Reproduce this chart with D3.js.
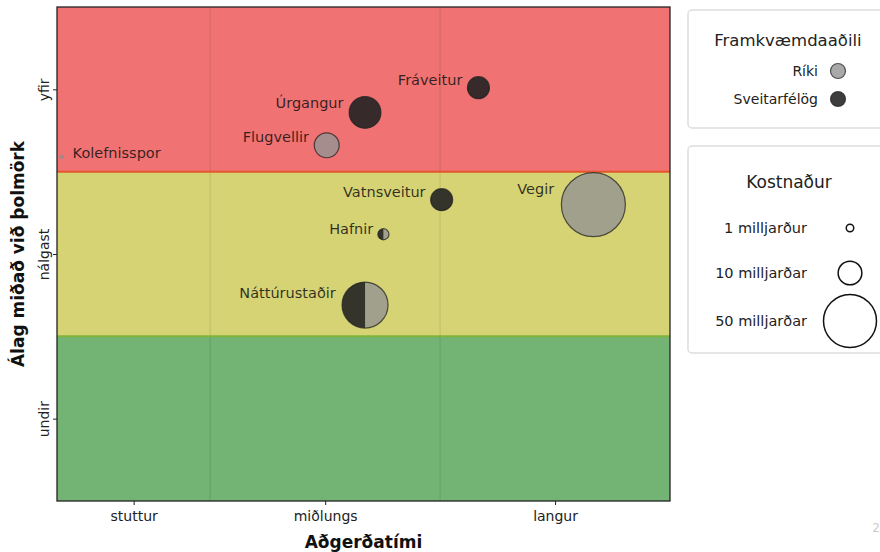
<!DOCTYPE html>
<html>
<head>
<meta charset="utf-8">
<script src="https://cdn.jsdelivr.net/npm/d3@7"></script>
<style>
  body { margin: 0; background: #fff; }
  svg { display: block; font-family: "DejaVu Sans", sans-serif; }
</style>
</head>
<body>
<script>
// verkefnaflokkar
var categories = ["Kolefnisspor", "Úrgangur", "Fráveitur", "Flugvellir", "Vatnsveitur", "Vegir", "Hafnir", "Náttúrustaðir"];
// Aðgerðatími (0-4, stuttur / miðlungs / langur)
var timeValues = [0.03, 2.01, 2.75, 1.76, 2.51, 3.50, 2.13, 2.01];
// Álag miðað við þolmörk (0-3, undir / nálgast / yfir)
var loadValues = [2.09, 2.36, 2.51, 2.16, 1.83, 1.80, 1.62, 1.19];
// Kostnaður í milljörðum
var costValues = [0.2, 18, 8.6, 11, 8.6, 73, 2.2, 37.6];
// hlutur ríkis (afgangur er sveitarfélög)
var stateShare = [1, 0, 0, 1, 0, 1, 0.5, 0.5];

var xBandEdges = [0, 1, 2.5, 4];
var xTickValues = [0.5, 1.75, 3.25];
var xTickLabels = ["stuttur", "miðlungs", "langur"];
var yTickValues = [0.5, 1.5, 2.5];
var yTickLabels = ["undir", "nálgast", "yfir"];
var bandColors = ["#73b373", "#d6d374", "#f17272"];
var bandEdgeColors = ["#7fb43a", "#e5562e"];

var ownerLabels = ["Ríki", "Sveitarfélög"];
var ownerColors = ["#939393", "#222222"];
var legendCosts = [1, 10, 50];
var legendCostLabels = ["1 milljarður", "10 milljarðar", "50 milljarðar"];

var W = 880, H = 552;
var svg = d3.select("body").append("svg").attr("width", W).attr("height", H);

var x = d3.scaleLinear().domain([0, 4]).range([57, 670]);
var y = d3.scaleLinear().domain([0, 3]).range([501, 7]);
var r = d3.scaleSqrt().domain([0, 50]).range([0, 26.5]);

// bakgrunnsbelti
bandColors.forEach(function (c, i) {
  svg.append("rect")
    .attr("x", x(0)).attr("y", y(i + 1))
    .attr("width", x(4) - x(0)).attr("height", y(i) - y(i + 1))
    .style("fill", c);
});

// lóðréttar línur milli flokka
xBandEdges.slice(1, -1).forEach(function (e) {
  svg.append("line")
    .attr("x1", x(e)).attr("x2", x(e))
    .attr("y1", y(3)).attr("y2", y(0))
    .style("stroke", "#000").style("stroke-opacity", 0.07).style("stroke-width", 1.5);
});

bandEdgeColors.forEach(function (c, i) {
  svg.append("line")
    .attr("x1", x(0)).attr("x2", x(4))
    .attr("y1", y(i + 1)).attr("y2", y(i + 1))
    .style("stroke", c).style("stroke-width", 2);
});

// bólur
var arc = d3.arc().innerRadius(0);
var pie = d3.pie().sort(null).value(function (d) { return d; });

categories.forEach(function (name, i) {
  var cx = x(timeValues[i]), cy = y(loadValues[i]), rr = r(costValues[i]);
  var g = svg.append("g").attr("transform", "translate(" + cx + "," + cy + ")");
  var share = stateShare[i];
  var tiny = rr < 3;
  if (share > 0 && share < 1) {
    pie([share, 1 - share]).forEach(function (p, k) {
      g.append("path")
        .attr("d", arc.outerRadius(rr)(p))
        .style("fill", ownerColors[k]).style("fill-opacity", k ? 0.9 : 0.8);
    });
    g.append("circle").attr("r", rr)
      .style("fill", "none").style("stroke", "#222").style("stroke-opacity", 0.75).style("stroke-width", 1.2);
  } else {
    g.append("circle").attr("r", rr)
      .style("fill", share ? ownerColors[0] : ownerColors[1])
      .style("fill-opacity", share ? 0.8 : 0.9)
      .style("stroke", tiny ? "#888" : "#222").style("stroke-opacity", tiny ? 0.5 : 0.75).style("stroke-width", 1.2);
  }
  var left = timeValues[i] < 0.3;
  svg.append("text")
    .attr("x", left ? cx + 11 : cx - (1.1 * rr + 4))
    .attr("y", left ? cy - 4 : cy - (0.4 * rr + 3))
    .attr("dy", "0.35em")
    .attr("text-anchor", left ? "start" : "end")
    .style("font-size", "14.5px").style("fill", "#111").style("fill-opacity", 0.85)
    .text(name);
});

// rammi
svg.append("rect")
  .attr("x", x(0)).attr("y", y(3))
  .attr("width", x(4) - x(0)).attr("height", y(0) - y(3))
  .style("fill", "none").style("stroke", "#222").style("stroke-width", 1.3);

// ásar
var xAxis = d3.axisBottom(x).tickValues(xTickValues)
  .tickFormat(function (d, i) { return xTickLabels[i]; })
  .tickSize(4).tickPadding(6);
var gx = svg.append("g").attr("transform", "translate(0," + y(0) + ")").call(xAxis);
gx.select(".domain").remove();
gx.selectAll("text").style("font-size", "14px").style("fill", "#222").style("font-family", "DejaVu Sans");
gx.selectAll("line").style("stroke", "#222");

var yAxis = d3.axisLeft(y).tickValues(yTickValues)
  .tickFormat(function (d, i) { return yTickLabels[i]; })
  .tickSize(4);
var gy = svg.append("g").attr("transform", "translate(" + x(0) + ",0)").call(yAxis);
gy.select(".domain").remove();
gy.selectAll("line").style("stroke", "#222");
gy.selectAll("text")
  .attr("x", 0).attr("y", -8).attr("dy", null)
  .attr("transform", "rotate(-90)")
  .attr("text-anchor", "middle")
  .style("font-size", "14px").style("fill", "#222").style("font-family", "DejaVu Sans");

svg.append("text")
  .attr("x", (x(0) + x(4)) / 2).attr("y", 548)
  .attr("text-anchor", "middle")
  .style("font-size", "17px").style("font-weight", "bold").style("fill", "#111")
  .text("Aðgerðatími");

svg.append("text")
  .attr("transform", "translate(24," + (y(0) + y(3)) / 2 + ") rotate(-90)")
  .attr("text-anchor", "middle")
  .style("font-size", "17px").style("font-weight", "bold").style("fill", "#111")
  .text("Álag miðað við þolmörk");

// skýringar: framkvæmdaaðili
svg.append("rect").attr("x", 688).attr("y", 10).attr("width", 220).attr("height", 118)
  .attr("rx", 4).style("fill", "#fff").style("stroke", "#ddd").style("stroke-width", 1.5);
svg.append("text").attr("x", 788).attr("y", 46).attr("text-anchor", "middle")
  .style("font-size", "16.5px").style("fill", "#222").text("Framkvæmdaaðili");
ownerLabels.forEach(function (lab, i) {
  var ly = 71 + i * 28;
  svg.append("text").attr("x", 818).attr("y", ly).attr("dy", "0.35em").attr("text-anchor", "end")
    .style("font-size", "14px").style("fill", "#222").text(lab);
  svg.append("circle").attr("cx", 838).attr("cy", ly).attr("r", 7.5)
    .style("fill", ownerColors[i]).style("fill-opacity", i ? 0.88 : 0.8)
    .style("stroke", "#222").style("stroke-opacity", 0.75).style("stroke-width", 1.2);
});

// skýringar: kostnaður
svg.append("rect").attr("x", 688).attr("y", 146).attr("width", 220).attr("height", 207)
  .attr("rx", 4).style("fill", "#fff").style("stroke", "#ddd").style("stroke-width", 1.5);
svg.append("text").attr("x", 789).attr("y", 188).attr("text-anchor", "middle")
  .style("font-size", "17px").style("fill", "#222").text("Kostnaður");
var legendRowY = [228, 273, 321];
legendCosts.forEach(function (c, i) {
  svg.append("text").attr("x", 807).attr("y", legendRowY[i]).attr("dy", "0.35em").attr("text-anchor", "end")
    .style("font-size", "14.5px").style("fill", "#222").text(legendCostLabels[i]);
  svg.append("circle").attr("cx", 850).attr("cy", legendRowY[i]).attr("r", r(c))
    .style("fill", "none").style("stroke", "#111").style("stroke-width", 1.5);
});

svg.append("text").attr("x", 880).attr("y", 532).attr("text-anchor", "end")
  .style("font-size", "12px").style("fill", "#ccc").text("2");
</script>
</body>
</html>
